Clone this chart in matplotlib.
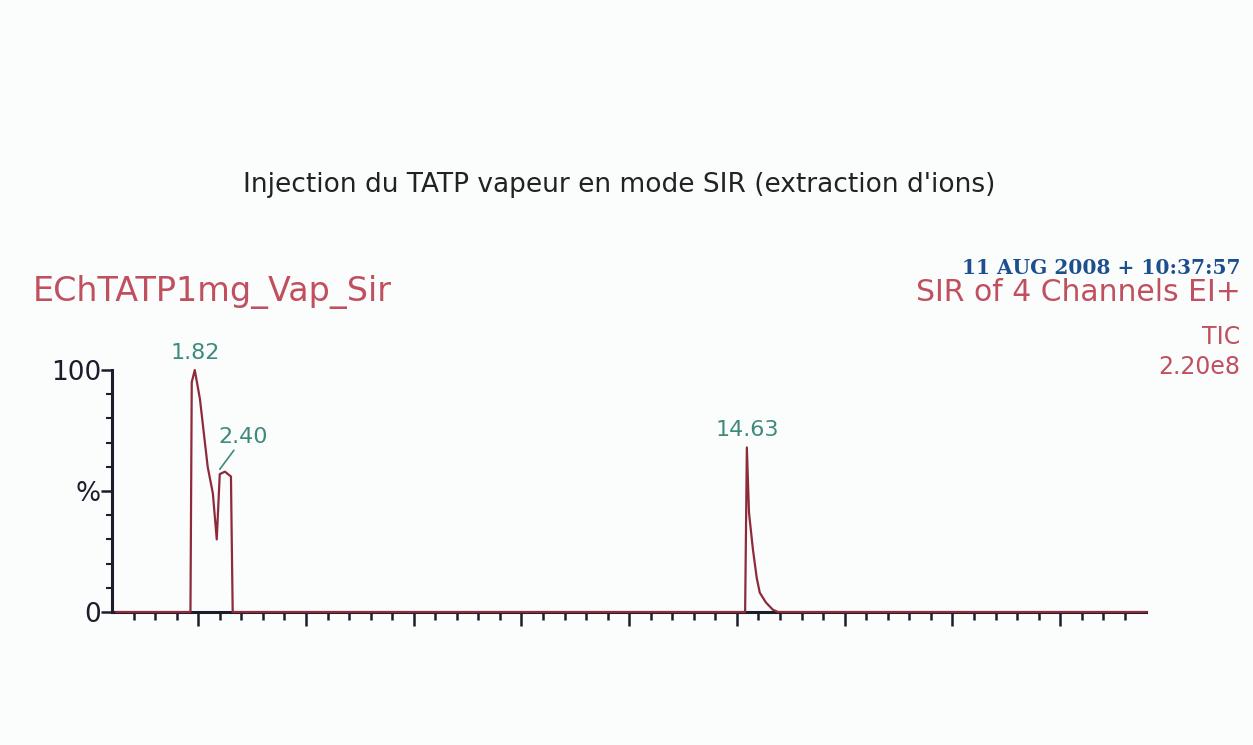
import numpy as np
import matplotlib.pyplot as plt

# chromatogram trace (retention time in min, relative intensity %)
time_min = [0.0, 1.72, 1.75, 1.82, 1.94, 2.12, 2.24, 2.33, 2.40, 2.52, 2.66, 2.67, 2.70,
            14.57, 14.59, 14.63, 14.68, 14.77, 14.86, 14.93, 15.07, 15.23, 15.35, 23.9]
intensity = [0, 0, 95, 100, 88, 60, 49, 30, 57, 58, 56, 41, 0,
             0, 0, 68, 41, 26, 14, 8, 4, 1, 0, 0]

peak_times = [1.82, 2.40, 14.63]
peak_labels = ['1.82', '2.40', '14.63']
peak_heights = [100, 57, 68]

title = "Injection du TATP vapeur en mode SIR (extraction d'ions)"
sample_name = "EChTATP1mg_Vap_Sir"
date_text = "11 AUG 2008 + 10:37:57"
right_info = ["SIR of 4 Channels EI+", "TIC", "2.20e8"]

ytick_vals = [0, 50, 100]
ytick_labels = ['0', '%', '100']

fig = plt.figure(figsize=(12.53, 7.45), dpi=100)
fig.patch.set_facecolor('#fbfdfd')
ax = fig.add_axes([0.0894, 0.1785, 0.8255, 0.3248])
ax.set_facecolor('none')

ax.plot(time_min, intensity, color='#8e2a3a', lw=1.6, clip_on=False, zorder=3)

ax.set_xlim(-0.1, 23.9)
ax.set_ylim(0, 100)
for s in ['top', 'right']:
    ax.spines[s].set_visible(False)
for s in ['left', 'bottom']:
    ax.spines[s].set_color('#1c1c2a')
    ax.spines[s].set_linewidth(2.2)

ax.set_xticks(np.arange(1.9, 23.9, 2.5))
ax.set_xticks(np.arange(0.4, 23.9, 0.5), minor=True)
ax.tick_params(axis='x', which='major', length=10, width=1.8, color='#1c1c2a', labelbottom=False)
ax.tick_params(axis='x', which='minor', length=6, width=1.8, color='#1c1c2a')

ax.set_yticks(ytick_vals)
ax.set_yticklabels(ytick_labels)
ax.set_yticks(np.arange(10, 100, 10), minor=True)
ax.tick_params(axis='y', which='major', length=8, width=1.8, color='#1c1c2a',
               labelsize=19, labelcolor='#1c1c2a', pad=0)
ax.tick_params(axis='y', which='minor', length=4, width=1.5, color='#1c1c2a')

# peak labels
ax.text(peak_times[0], peak_heights[0] + 3, peak_labels[0], ha='center', va='bottom',
        fontsize=16, color='#3d8a7c')
ax.annotate(peak_labels[1], xy=(peak_times[1], peak_heights[1] + 2),
            xytext=(peak_times[1] + 0.55, peak_heights[1] + 11), ha='center', va='bottom',
            fontsize=16, color='#3d8a7c',
            arrowprops=dict(arrowstyle='-', color='#3d8a7c', lw=1.2, shrinkA=0, shrinkB=0))
ax.text(peak_times[2], peak_heights[2] + 3, peak_labels[2], ha='center', va='bottom',
        fontsize=16, color='#3d8a7c')

fig.text(0.494, 0.752, title, ha='center', va='center', fontsize=19, color='#222222')
fig.text(0.026, 0.608, sample_name, ha='left', va='center', fontsize=24, color='#c0505f')
fig.text(0.990, 0.640, date_text, ha='right', va='center', fontsize=14.5, color='#1d4f8f',
         family='DejaVu Serif', weight='bold')
fig.text(0.990, 0.608, right_info[0], ha='right', va='center', fontsize=21.5, color='#c0505f')
fig.text(0.990, 0.548, right_info[1], ha='right', va='center', fontsize=17, color='#c0505f')
fig.text(0.990, 0.507, right_info[2], ha='right', va='center', fontsize=17, color='#c0505f')

fig.savefig('out.png', dpi=100, facecolor=fig.get_facecolor())
